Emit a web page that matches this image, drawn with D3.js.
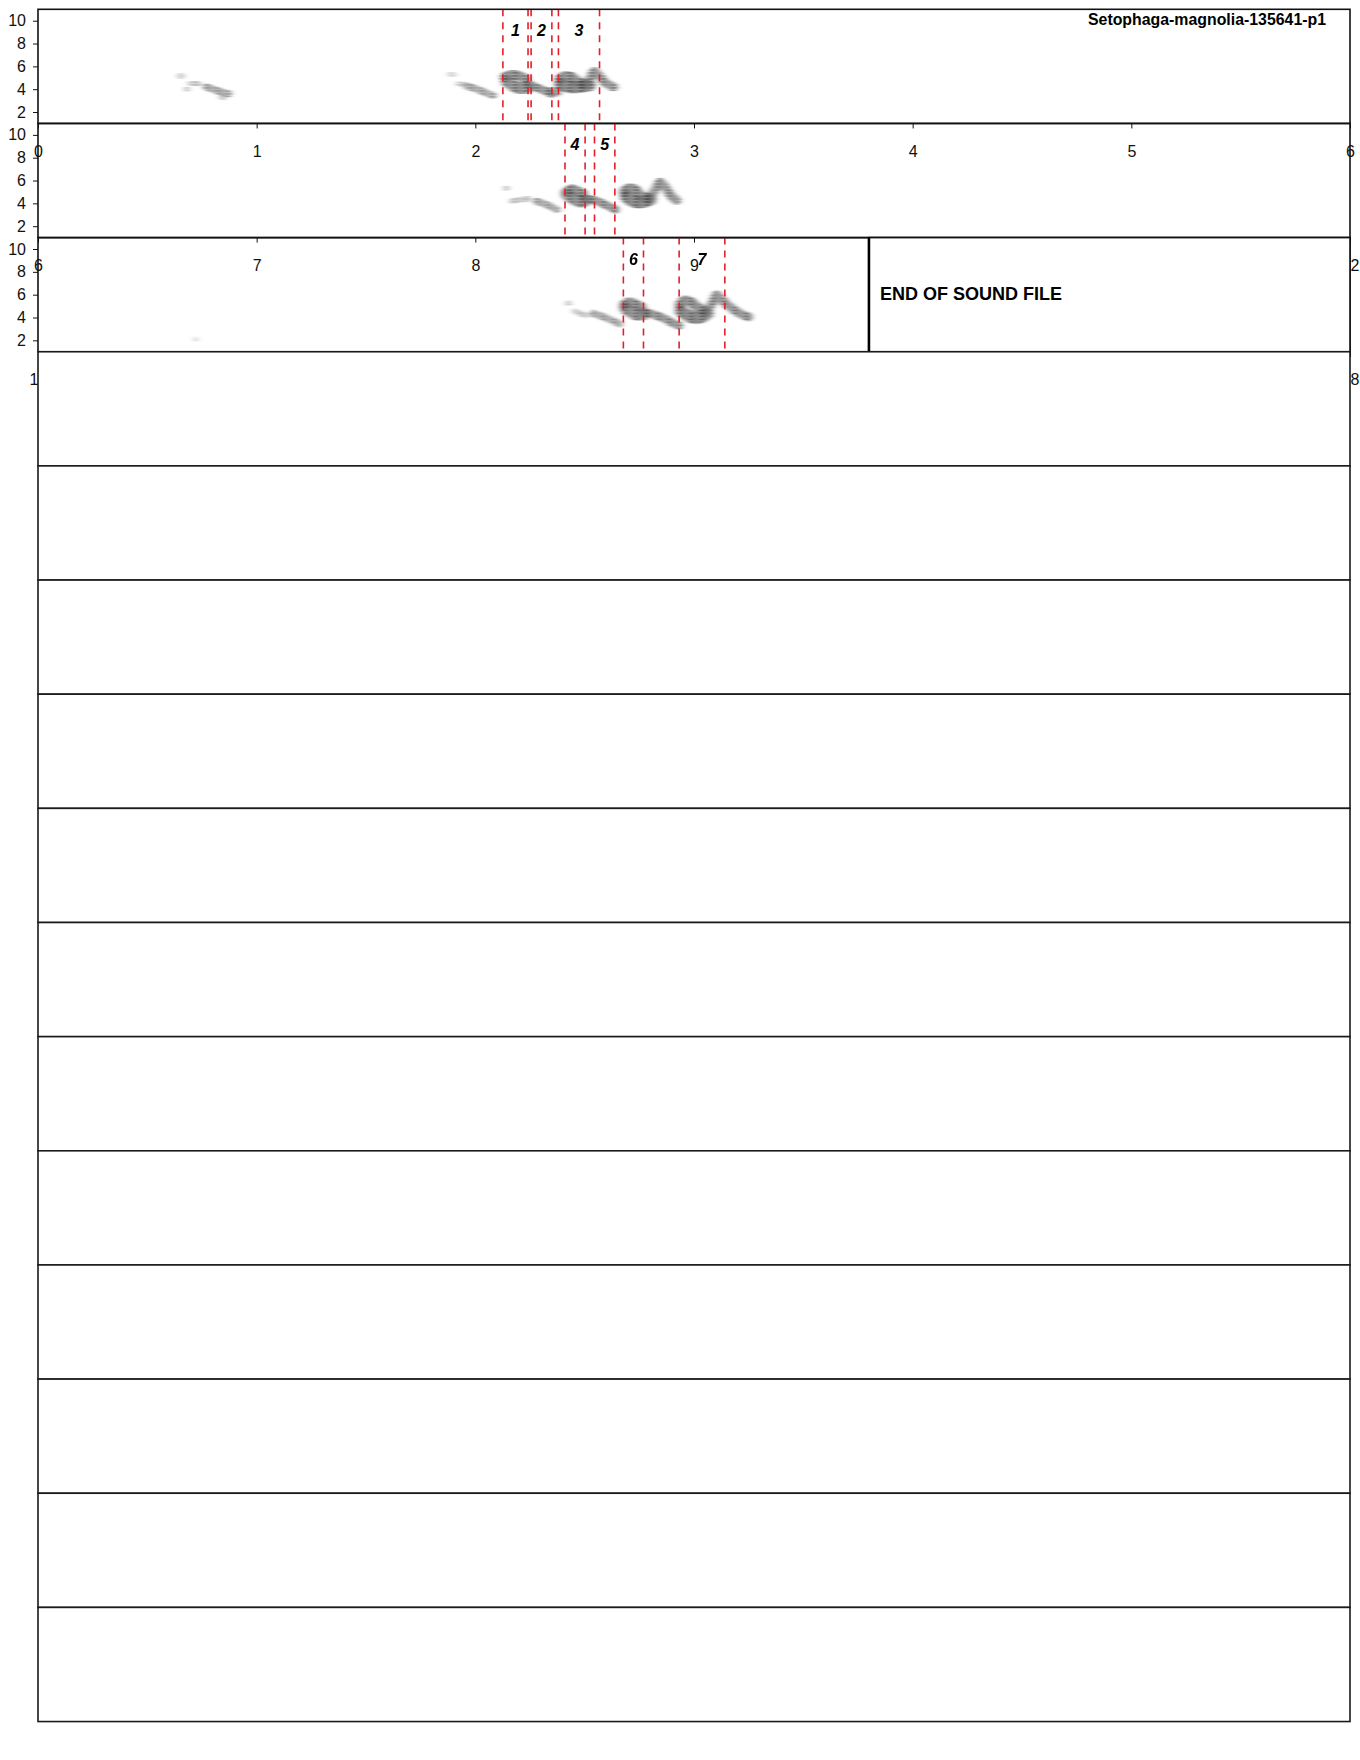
<!DOCTYPE html>
<html>
<head>
<meta charset="utf-8">
<script src="https://cdn.jsdelivr.net/npm/d3@7"></script>
<style>
  body { margin: 0; background: #fff; }
  svg { display: block; }
</style>
</head>
<body>
<svg id="chart"></svg>
<script>
// page of spectrogram rows, 6 s per row
const title = "Setophaga-magnolia-135641-p1";
const endLabel = "END OF SOUND FILE";
const rowSeconds = 6;
const rowCount = 15;
const soundRows = 3;
const endOfFile = 15.80;          // seconds
const freqDomain = [1, 11];       // kHz
const freqTicks = [2, 4, 6, 8, 10];

// syllable markers (seconds)
const syllableLabels = ["1", "2", "3", "4", "5", "6", "7"];
const syllableStart = [2.126, 2.255, 2.380, 8.410, 8.545, 14.677, 14.932];
const syllableEnd   = [2.241, 2.350, 2.568, 8.502, 8.638, 14.769, 15.141];

// spectrogram ridges: [time s, freq kHz]; level = darkness, bw = band height in kHz
const traces = [
  {level: 0.30, bw: 0.35, pts: [[0.648, 5.15], [0.658, 5.15]]},
  {level: 0.35, bw: 0.25, pts: [[0.695, 4.50], [0.736, 4.48]]},
  {level: 0.30, bw: 0.25, pts: [[0.678, 4.00], [0.686, 4.00]]},
  {level: 0.55, bw: 0.45, pts: [[0.770, 4.20], [0.800, 4.00], [0.830, 3.80], [0.870, 3.60]]},
  {level: 0.35, bw: 0.30, pts: [[0.840, 3.30], [0.850, 3.25]]},
  {level: 0.25, bw: 0.25, pts: [[1.884, 5.30], [1.905, 5.28]]},
  {level: 0.30, bw: 0.25, pts: [[1.922, 4.46], [1.952, 4.44]]},
  {level: 0.55, bw: 0.45, pts: [[1.960, 4.28], [2.000, 4.05], [2.040, 3.75], [2.080, 3.45]]},
  {level: 0.75, bw: 0.65, pts: [[2.135, 5.05], [2.160, 5.25], [2.195, 5.20], [2.230, 4.90]]},
  {level: 0.75, bw: 0.85, pts: [[2.145, 4.70], [2.170, 4.35], [2.200, 4.10], [2.240, 4.15]]},
  {level: 0.70, bw: 0.55, pts: [[2.245, 4.45], [2.280, 4.15], [2.320, 3.85], [2.350, 3.60]]},
  {level: 0.55, bw: 0.60, pts: [[2.350, 3.80], [2.375, 3.75]]},
  {level: 0.75, bw: 0.70, pts: [[2.385, 4.85], [2.410, 5.15], [2.440, 5.05], [2.470, 4.65], [2.500, 4.40]]},
  {level: 0.80, bw: 0.90, pts: [[2.390, 4.45], [2.430, 4.20], [2.470, 4.20], [2.520, 4.35]]},
  {level: 0.70, bw: 0.60, pts: [[2.500, 4.40], [2.525, 5.00], [2.545, 5.55], [2.565, 5.20], [2.590, 4.65], [2.630, 4.20]]},

  {level: 0.30, bw: 0.25, pts: [[8.138, 5.32], [8.148, 5.32]]},
  {level: 0.35, bw: 0.30, pts: [[8.166, 4.20], [8.200, 4.30], [8.243, 4.40]]},
  {level: 0.55, bw: 0.45, pts: [[8.280, 4.20], [8.330, 3.85], [8.372, 3.45]]},
  {level: 0.75, bw: 0.65, pts: [[8.415, 5.00], [8.440, 5.25], [8.470, 5.05], [8.495, 4.80]]},
  {level: 0.75, bw: 0.85, pts: [[8.420, 4.75], [8.450, 4.40], [8.480, 4.15], [8.505, 4.25]]},
  {level: 0.70, bw: 0.55, pts: [[8.500, 4.40], [8.540, 4.30], [8.580, 4.00], [8.610, 3.75], [8.640, 3.45]]},
  {level: 0.75, bw: 0.70, pts: [[8.680, 5.00], [8.700, 5.30], [8.730, 5.20], [8.760, 4.65], [8.790, 4.40]]},
  {level: 0.80, bw: 0.90, pts: [[8.690, 4.60], [8.720, 4.20], [8.760, 4.10], [8.800, 4.35]]},
  {level: 0.70, bw: 0.60, pts: [[8.800, 4.50], [8.825, 5.30], [8.845, 5.85], [8.865, 5.50], [8.885, 4.90], [8.920, 4.25]]},

  {level: 0.20, bw: 0.20, pts: [[12.718, 2.10], [12.724, 2.10]]},
  {level: 0.30, bw: 0.25, pts: [[14.420, 5.25], [14.430, 5.25]]},
  {level: 0.35, bw: 0.30, pts: [[14.455, 4.55], [14.480, 4.35], [14.510, 4.20]]},
  {level: 0.55, bw: 0.45, pts: [[14.540, 4.35], [14.600, 3.95], [14.660, 3.45]]},
  {level: 0.75, bw: 0.65, pts: [[14.680, 5.10], [14.705, 5.35], [14.735, 5.15], [14.760, 4.90]]},
  {level: 0.75, bw: 0.85, pts: [[14.685, 4.85], [14.710, 4.50], [14.740, 4.25], [14.770, 4.30]]},
  {level: 0.70, bw: 0.55, pts: [[14.770, 4.50], [14.810, 4.30], [14.860, 3.95], [14.900, 3.55], [14.930, 3.30]]},
  {level: 0.75, bw: 0.70, pts: [[14.935, 5.10], [14.960, 5.50], [14.990, 5.30], [15.020, 4.85], [15.050, 4.50]]},
  {level: 0.80, bw: 0.90, pts: [[14.940, 4.60], [14.980, 4.10], [15.020, 4.00], [15.060, 4.35]]},
  {level: 0.70, bw: 0.60, pts: [[15.060, 4.60], [15.090, 5.50], [15.105, 6.00], [15.130, 5.50], [15.170, 4.85], [15.210, 4.35], [15.250, 4.05]]}
];

const W = 1360, H = 1760;
const marginLeft = 38, plotW = 1312, marginTop = 9.3, rowH = 114.15;
const font = "'Liberation Sans', Arial, Helvetica, sans-serif";

const svg = d3.select("#chart").attr("width", W).attr("height", H);

// horizontal striation + smear, like a printed spectrogram
const defs = svg.append("defs");
const pat = defs.append("pattern").attr("id", "streaks")
  .attr("patternUnits", "userSpaceOnUse").attr("width", 11).attr("height", 3);
pat.append("rect").attr("width", 11).attr("height", 3).attr("fill", "#9a9a9a");
pat.append("rect").attr("width", 8).attr("height", 1.4).attr("fill", "#151515");
pat.append("rect").attr("x", 5).attr("y", 1.6).attr("width", 6).attr("height", 1.1).attr("fill", "#555");
defs.append("filter").attr("id", "smear")
  .attr("x", "-20%").attr("y", "-20%").attr("width", "140%").attr("height", "140%")
  .append("feGaussianBlur").attr("stdDeviation", "2.4 0.4");

const y = d3.scaleLinear().domain(freqDomain).range([rowH, 0]);
const syllables = syllableLabels.map((l, i) => ({label: l, start: syllableStart[i], end: syllableEnd[i]}));

for (let r = 0; r < rowCount; r++) {
  const g = svg.append("g").attr("transform", `translate(${marginLeft},${marginTop + r * rowH})`);
  const t0 = r * rowSeconds;
  const x = d3.scaleLinear().domain([t0, t0 + rowSeconds]).range([0, plotW]);

  if (r >= soundRows) {
    g.append("rect").attr("width", plotW).attr("height", rowH)
      .attr("fill", "#fff").attr("stroke", "#1a1a1a").attr("stroke-width", 1.6);
    continue;
  }

  // spectrogram
  const line = d3.line().x(d => x(d[0])).y(d => y(d[1])).curve(d3.curveCatmullRom);
  const rowTraces = traces.filter(d => Math.floor(d.pts[0][0] / rowSeconds) === r);
  g.append("g").attr("filter", "url(#smear)")
    .selectAll("path").data(rowTraces).join("path")
    .attr("d", d => line(d.pts))
    .attr("fill", "none")
    .attr("stroke", "url(#streaks)")
    .attr("stroke-width", d => y(freqDomain[0]) - y(freqDomain[0] + d.bw) + 2)
    .attr("stroke-linecap", "round")
    .attr("stroke-linejoin", "round")
    .attr("opacity", d => d.level);

  // syllable boundaries
  const rowSyl = syllables.filter(d => d.start >= t0 && d.start < t0 + rowSeconds);
  const bounds = rowSyl.flatMap(d => [d.start, d.end]);
  g.selectAll("line.mark").data(bounds).join("line").attr("class", "mark")
    .attr("x1", d => x(d)).attr("x2", d => x(d))
    .attr("y1", 0).attr("y2", rowH)
    .attr("stroke", "#e3202a").attr("stroke-width", 1.6)
    .attr("stroke-dasharray", "7,6");
  g.selectAll("text.syl").data(rowSyl).join("text").attr("class", "syl")
    .attr("x", d => x((d.start + d.end) / 2)).attr("y", 27)
    .attr("text-anchor", "middle")
    .attr("font-family", font).attr("font-size", 16)
    .attr("font-weight", "bold").attr("font-style", "italic")
    .attr("fill", "#000")
    .text(d => d.label);

  // frequency axis
  const ya = g.append("g").call(d3.axisLeft(y).tickValues(freqTicks).tickSize(5).tickPadding(7));
  ya.select(".domain").remove();
  ya.attr("font-family", font).attr("font-size", 16);
  ya.selectAll("line").attr("stroke", "#111");
  ya.selectAll("text").attr("fill", "#111");

  // time axis (labels fall in the row below)
  const xa = g.append("g").attr("transform", `translate(0,${rowH})`)
    .call(d3.axisBottom(x).tickValues(d3.range(t0, t0 + rowSeconds + 1))
      .tickSize(5).tickPadding(17).tickFormat(d3.format("d")));
  xa.select(".domain").remove();
  xa.attr("font-family", font).attr("font-size", 16);
  xa.selectAll("line").attr("stroke", "#111");
  xa.selectAll("text").attr("fill", "#111");

  g.append("rect").attr("width", plotW).attr("height", rowH)
    .attr("fill", "none").attr("stroke", "#111").attr("stroke-width", 1.6);

  if (r === 0) {
    g.append("text").attr("x", 1326 - marginLeft).attr("y", 16)
      .attr("text-anchor", "end")
      .attr("font-family", font).attr("font-size", 16).attr("font-weight", "bold")
      .attr("textLength", 238).attr("lengthAdjust", "spacingAndGlyphs")
      .text(title);
  }

  // end of recording box
  const endRow = Math.floor(endOfFile / rowSeconds);
  if (r === endRow) {
    const ex = x(endOfFile);
    g.append("rect").attr("x", ex).attr("width", plotW - ex).attr("height", rowH)
      .attr("fill", "#fff").attr("stroke", "#111").attr("stroke-width", 1.6);
    g.append("line").attr("x1", ex).attr("x2", ex).attr("y1", 0).attr("y2", rowH)
      .attr("stroke", "#000").attr("stroke-width", 2.6);
    g.append("text").attr("x", ex + 11).attr("y", rowH / 2 + 5.5)
      .attr("font-family", font).attr("font-size", 18).attr("font-weight", "bold")
      .text(endLabel);
  }
}
</script>
</body>
</html>
